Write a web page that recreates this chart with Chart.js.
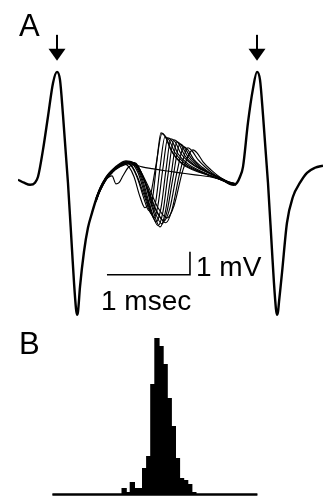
<!DOCTYPE html>
<html>
<head>
<meta charset="utf-8">
<title>Sweeps and latency histogram</title>
<script src="https://cdn.jsdelivr.net/npm/chart.js@4.4.1/dist/chart.umd.min.js"></script>
<style>
  html, body { margin: 0; padding: 0; background: #fff; }
  body { width: 323px; height: 497px; position: relative; overflow: hidden; }
  canvas { position: absolute; left: 0; }
  #sweepChart { top: 0; }
  #histChart { top: 330px; }
</style>
</head>
<body>
<canvas id="sweepChart" width="323" height="330"></canvas>
<canvas id="histChart" width="323" height="167"></canvas>
<script>
// Panel A data: [time (msec), voltage (mV)]
// the two large spikes are the same in every sweep
const spikeLeft = [
    [0.000, 0.09], [0.072, -0.04], [0.145, -0.13], [0.205, -0.04], [0.241, 0.22],
    [0.301, 1.39], [0.361, 2.83], [0.422, 4.30], [0.470, 4.78], [0.506, 4.43],
    [0.542, 2.91], [0.602, -0.04], [0.651, -2.96], [0.675, -4.39], [0.699, -5.52],
    [0.711, -5.78], [0.723, -5.65], [0.747, -4.57], [0.795, -3.04], [0.843, -2.00],
    [0.892, -1.35], [0.940, -0.78], [0.988, -0.35], [1.060, 0.13], [1.133, 0.43]
];
const spikeRight = [
    [2.494, 0.04], [2.554, -0.09], [2.602, -0.13], [2.639, -0.04], [2.675, 0.22],
    [2.711, 0.65], [2.771, 2.57], [2.831, 4.04], [2.880, 4.78], [2.916, 4.43],
    [2.952, 2.91], [3.012, -0.04], [3.060, -2.96], [3.084, -4.39], [3.108, -5.52],
    [3.120, -5.78], [3.133, -5.65], [3.145, -5.22], [3.181, -3.96], [3.241, -1.78],
    [3.313, -0.65], [3.398, -0.04], [3.482, 0.39], [3.578, 0.61], [3.675, 0.70]
];

// middle part of each sweep (the jittering small response)
const sweep1 = [[0.940,-0.74],[0.988,-0.30],[1.060,0.17],[1.133,0.48],[1.205,0.70],[1.289,0.83],[1.373,0.65],[1.446,0.09],[1.518,-0.74],[1.578,-1.26],[1.627,-0.57],[1.675,0.96],[1.723,2.13],[1.771,2.00],[1.843,1.39],[1.952,0.87],[2.096,0.57],[2.253,0.35],[2.410,0.13],[2.530,-0.04],[2.627,-0.09]];
const sweep2 = [[0.940,-0.83],[0.988,-0.35],[1.060,0.13],[1.133,0.43],[1.205,0.65],[1.277,0.83],[1.349,0.78],[1.434,0.26],[1.518,-0.57],[1.614,-1.43],[1.663,-0.78],[1.711,0.61],[1.771,1.96],[1.819,1.83],[1.892,1.26],[2.000,0.83],[2.145,0.52],[2.313,0.26],[2.458,0.09],[2.554,-0.09],[2.627,-0.09]];
const sweep3 = [[0.940,-0.78],[0.988,-0.30],[1.060,0.17],[1.133,0.48],[1.205,0.70],[1.289,0.87],[1.361,0.83],[1.446,0.39],[1.542,-0.70],[1.639,-1.57],[1.687,-1.00],[1.747,0.61],[1.807,1.91],[1.855,1.78],[1.928,1.22],[2.048,0.78],[2.193,0.48],[2.361,0.22],[2.506,0.00],[2.627,-0.13]];
const sweep4 = [[0.940,-0.70],[0.988,-0.26],[1.060,0.22],[1.133,0.52],[1.205,0.74],[1.301,0.91],[1.386,0.83],[1.470,0.30],[1.566,-0.87],[1.663,-1.74],[1.723,-1.13],[1.783,0.52],[1.843,1.87],[1.892,1.74],[1.964,1.22],[2.072,0.83],[2.217,0.52],[2.373,0.26],[2.518,0.00],[2.627,-0.09]];
const sweep5 = [[0.940,-0.78],[0.988,-0.35],[1.060,0.13],[1.133,0.43],[1.217,0.70],[1.313,0.87],[1.398,0.83],[1.494,0.17],[1.590,-1.04],[1.687,-1.91],[1.747,-1.30],[1.807,0.30],[1.880,1.83],[1.928,1.70],[2.012,1.13],[2.133,0.70],[2.277,0.43],[2.434,0.17],[2.554,-0.04],[2.627,-0.13]];
const sweep6 = [[0.940,-0.83],[0.988,-0.39],[1.060,0.09],[1.133,0.43],[1.217,0.65],[1.313,0.83],[1.410,0.83],[1.506,0.22],[1.614,-1.09],[1.711,-1.96],[1.771,-1.39],[1.843,0.26],[1.916,1.74],[1.964,1.61],[2.048,1.09],[2.157,0.70],[2.301,0.39],[2.446,0.13],[2.554,-0.04],[2.627,-0.09]];
const sweep7 = [[0.940,-0.74],[0.988,-0.30],[1.060,0.17],[1.133,0.48],[1.217,0.70],[1.325,0.87],[1.422,0.78],[1.530,0.00],[1.639,-1.22],[1.735,-1.83],[1.795,-1.30],[1.867,0.17],[1.952,1.65],[2.000,1.52],[2.084,1.04],[2.193,0.65],[2.325,0.35],[2.458,0.13],[2.566,-0.09],[2.627,-0.09]];
const sweep8 = [[0.940,-0.78],[0.988,-0.35],[1.060,0.13],[1.133,0.43],[1.217,0.65],[1.325,0.83],[1.434,0.70],[1.542,-0.13],[1.651,-1.17],[1.759,-1.70],[1.831,-1.13],[1.916,0.43],[2.000,1.52],[2.048,1.39],[2.120,0.96],[2.229,0.61],[2.349,0.30],[2.482,0.09],[2.578,-0.09],[2.627,-0.13]];
const sweep9 = [[0.940,-0.87],[0.988,-0.39],[1.060,0.09],[1.133,0.39],[1.229,0.65],[1.337,0.78],[1.446,0.61],[1.566,-0.30],[1.675,-1.30],[1.783,-1.78],[1.855,-1.22],[1.952,0.43],[2.048,1.48],[2.096,1.35],[2.169,0.96],[2.265,0.61],[2.386,0.26],[2.506,0.04],[2.627,-0.09]];
const sweep10 = [[0.940,-0.74],[0.988,-0.30],[1.060,0.17],[1.133,0.48],[1.217,0.70],[1.325,0.87],[1.434,0.70],[1.566,-0.17],[1.687,-1.13],[1.795,-1.57],[1.880,-1.04],[1.988,0.52],[2.108,1.39],[2.157,1.26],[2.229,0.87],[2.325,0.52],[2.446,0.17],[2.554,-0.04],[2.627,-0.09]];
const sweep11 = [[0.940,-0.78],[0.988,-0.35],[1.060,0.13],[1.133,0.43],[1.205,0.65],[1.277,0.78],[1.337,0.65],[1.398,0.22],[1.470,-0.65],[1.530,-1.13],[1.590,-0.70],[1.663,0.74],[1.735,2.09],[1.783,1.91],[1.855,1.30],[1.976,0.78],[2.133,0.48],[2.313,0.26],[2.482,0.04],[2.627,-0.09]];
// one sweep with no response
const sweepFail = [[0.940,-0.83],[0.988,-0.39],[1.060,0.09],[1.133,0.26],[1.181,-0.09],[1.217,-0.04],[1.265,0.26],[1.325,0.61],[1.398,0.74],[1.494,0.65],[1.614,0.57],[1.771,0.48],[1.952,0.39],[2.133,0.30],[2.313,0.22],[2.458,0.09],[2.554,-0.09],[2.627,-0.09]];

// scale bar: 1 msec by 1 mV
const scaleBarT = [1.072, 2.072, 2.072];
const scaleBarV = [-4.04, -4.04, -3.04];

// arrows over the two big spikes
const arrowTimes = [0.470, 2.880];
const arrowTopV = 6.39;
const arrowTipV = 5.26;

// Panel B data: latency histogram, counts per bin
const histCounts = [
    0, 0, 0, 0, 0, 0, 0, 0, 0, 0,
    0, 0, 0, 0, 0, 0, 0, 3, 1, 6,
    3, 3, 13, 19, 55, 78, 74, 65, 48, 34,
    18, 8, 7, 5, 1, 0, 0, 0, 0, 0,
    0, 0, 0, 0, 0, 0, 0, 0, 0, 0
];
const histBins = histCounts.map((c, i) => i + 1);

const FONT = '"Liberation Sans", Arial, Helvetica, sans-serif';

function toPoints(arr) {
    return arr.map(p => ({ x: p[0], y: p[1] }));
}

document.addEventListener('DOMContentLoaded', function () {
    const sweeps = [sweep1, sweep2, sweep3, sweep4, sweep5, sweep6,
                    sweep7, sweep8, sweep9, sweep10, sweep11, sweepFail];

    const datasets = [];
    sweeps.forEach(s => {
        datasets.push({
            data: toPoints(s),
            borderColor: '#000',
            borderWidth: 1.15,
            cubicInterpolationMode: 'monotone'
        });
    });
    [spikeLeft, spikeRight].forEach(s => {
        datasets.push({
            data: toPoints(s),
            borderColor: '#000',
            borderWidth: 2.4,
            cubicInterpolationMode: 'monotone'
        });
    });
    datasets.push({
        data: scaleBarT.map((t, i) => ({ x: t, y: scaleBarV[i] })),
        borderColor: '#000',
        borderWidth: 1.6,
        tension: 0
    });

    // arrows, panel letter, scale bar labels
    const sweepDecor = {
        id: 'sweepDecor',
        afterDatasetsDraw(chart) {
            const ctx = chart.ctx;
            const xs = chart.scales.x, ys = chart.scales.y;
            ctx.save();
            ctx.fillStyle = '#000';
            ctx.strokeStyle = '#000';
            arrowTimes.forEach(t => {
                const x = xs.getPixelForValue(t);
                const yTop = ys.getPixelForValue(arrowTopV);
                const yTip = ys.getPixelForValue(arrowTipV);
                ctx.lineWidth = 2;
                ctx.beginPath();
                ctx.moveTo(x, yTop);
                ctx.lineTo(x, yTip - 8);
                ctx.stroke();
                ctx.beginPath();
                ctx.moveTo(x - 8.5, yTip - 12);
                ctx.lineTo(x + 8.5, yTip - 12);
                ctx.lineTo(x, yTip);
                ctx.closePath();
                ctx.fill();
            });

            ctx.textBaseline = 'alphabetic';
            ctx.font = '31px ' + FONT;
            ctx.fillText('A', 19, 36);

            const barX0 = xs.getPixelForValue(scaleBarT[0]);
            const barX1 = xs.getPixelForValue(scaleBarT[1]);
            const barY = ys.getPixelForValue(scaleBarV[0]);
            ctx.font = '28px ' + FONT;
            ctx.fillText('1 mV', barX1 + 6, barY + 1);
            ctx.fillText('1 msec', barX0 - 6, barY + 35);
            ctx.restore();
        }
    };

    new Chart(document.getElementById('sweepChart'), {
        type: 'line',
        data: { datasets: datasets },
        options: {
            responsive: false,
            animation: false,
            elements: { point: { radius: 0 } },
            layout: { padding: { left: 18, right: 0, top: 30, bottom: 1 } },
            scales: {
                x: { type: 'linear', min: 0, max: 3.675, display: false },
                y: { min: -6.4, max: 6.6, display: false }
            },
            plugins: { legend: { display: false }, tooltip: { enabled: false } }
        },
        plugins: [sweepDecor]
    });

    // baseline under the histogram and panel letter
    const histDecor = {
        id: 'histDecor',
        afterDatasetsDraw(chart) {
            const ctx = chart.ctx, area = chart.chartArea;
            ctx.save();
            ctx.strokeStyle = '#000';
            ctx.lineWidth = 2.4;
            ctx.beginPath();
            ctx.moveTo(area.left, area.bottom);
            ctx.lineTo(area.right, area.bottom);
            ctx.stroke();
            ctx.fillStyle = '#000';
            ctx.font = '31px ' + FONT;
            ctx.fillText('B', 19, 24);
            ctx.restore();
        }
    };

    new Chart(document.getElementById('histChart'), {
        type: 'bar',
        data: {
            labels: histBins,
            datasets: [{
                data: histCounts,
                backgroundColor: '#000',
                borderWidth: 0,
                barPercentage: 1,
                categoryPercentage: 1,
                inflateAmount: 0.6
            }]
        },
        options: {
            responsive: false,
            animation: false,
            layout: { padding: { left: 52.4, right: 65.6, top: 0.5, bottom: 2.5 } },
            scales: {
                x: { display: false },
                y: { display: false, min: 0, max: 82 }
            },
            plugins: { legend: { display: false }, tooltip: { enabled: false } }
        },
        plugins: [histDecor]
    });
});
</script>
</body>
</html>
